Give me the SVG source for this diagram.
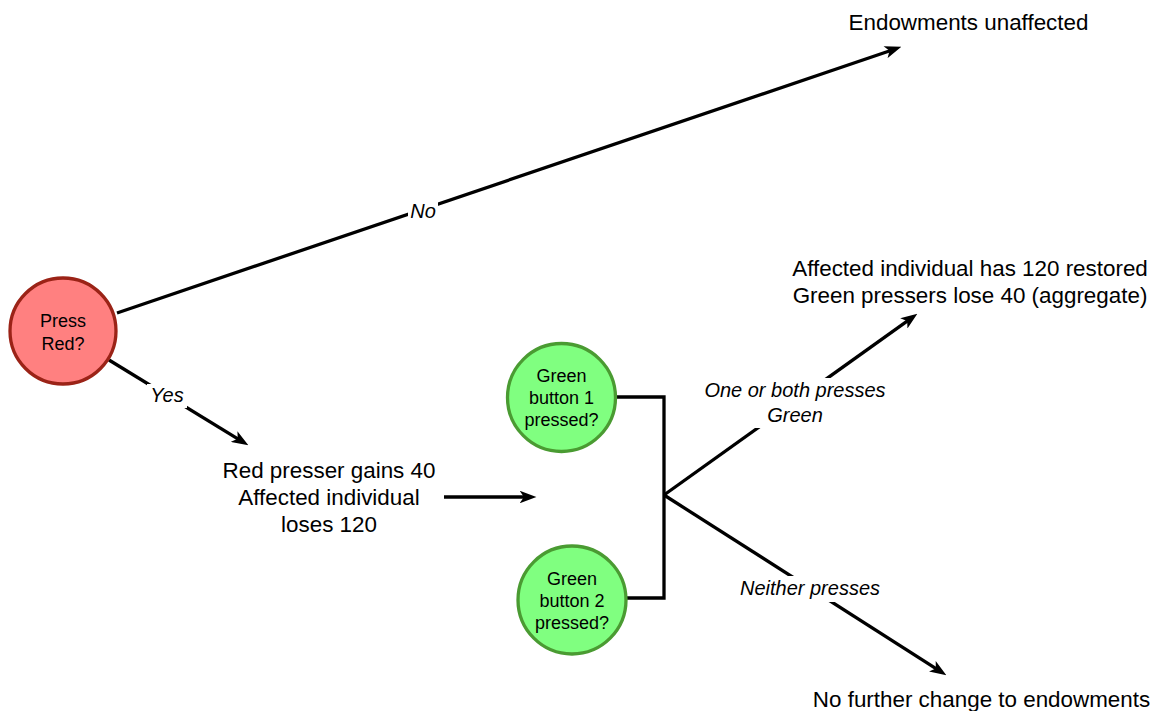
<svg xmlns="http://www.w3.org/2000/svg" width="1156" height="711" viewBox="0 0 1156 711">
<style>
text{font-family:"Liberation Sans",Arial,Helvetica,sans-serif;fill:#000;text-anchor:middle}
.big{font-size:22.4px}
.node{font-size:18px}
.lbl{font-size:20px;font-style:italic}
.edge{stroke:#000;stroke-width:3.3;fill:none}
.bg{fill:#fff}
.red{fill:#FF8080;stroke:#9B2317;stroke-width:3.3}
.green{fill:#80FF80;stroke:#4A9B32;stroke-width:3.3}
</style>
<defs>
<marker id="arr" viewBox="0 0 16 12" refX="6" refY="6" markerWidth="17" markerHeight="12.5" markerUnits="userSpaceOnUse" orient="auto">
<path d="M0,0 L16,6 L0,12 L4,6 z" fill="#000"/>
</marker>
</defs>
<rect width="1156" height="711" fill="#fff"/>
<g id="connectors">
<line class="edge" x1="117" y1="313" x2="891.5" y2="50.2" marker-end="url(#arr)"/>
<line class="edge" x1="109" y1="360" x2="239.5" y2="439.8" marker-end="url(#arr)"/>
<line class="edge" x1="444" y1="497" x2="526" y2="497" marker-end="url(#arr)"/>
<polyline class="edge" points="616,397 664,397 664,598 627,598"/>
<line class="edge" x1="664" y1="495" x2="908.9" y2="319.8" marker-end="url(#arr)"/>
<line class="edge" x1="664" y1="495" x2="937.6" y2="669.6" marker-end="url(#arr)"/>
<g id="edge-labels">
<rect class="bg" x="408" y="199" width="30" height="24"/>
<text class="lbl" x="423" y="218">No</text>
<rect class="bg" x="147" y="384" width="40" height="24"/>
<text class="lbl" x="167" y="402">Yes</text>
<rect class="bg" x="700" y="378" width="190" height="50"/>
<text class="lbl" x="795" y="397">One or both presses</text>
<text class="lbl" x="795" y="422">Green</text>
<rect class="bg" x="736" y="576" width="148" height="26"/>
<text class="lbl" x="810" y="595">Neither presses</text>
</g>
</g>
<g id="press-red">
<circle class="red" cx="63" cy="331" r="53"/>
<text class="node" x="63" y="327">Press</text>
<text class="node" x="63" y="350">Red?</text>
</g>
<g id="green-1">
<circle class="green" cx="561.5" cy="397.5" r="54"/>
<text class="node" x="561.5" y="382">Green</text>
<text class="node" x="561.5" y="404">button 1</text>
<text class="node" x="561.5" y="426">pressed?</text>
</g>
<g id="green-2">
<circle class="green" cx="572" cy="600" r="54"/>
<text class="node" x="572" y="585">Green</text>
<text class="node" x="572" y="607">button 2</text>
<text class="node" x="572" y="629">pressed?</text>
</g>
<g id="endowments-unaffected">
<text class="big" x="968.5" y="30">Endowments unaffected</text>
</g>
<g id="red-outcome">
<text class="big" x="329" y="478">Red presser gains 40</text>
<text class="big" x="329" y="505">Affected individual</text>
<text class="big" x="329" y="532">loses 120</text>
</g>
<g id="restored">
<text class="big" x="970" y="276">Affected individual has 120 restored</text>
<text class="big" x="970" y="303">Green pressers lose 40 (aggregate)</text>
</g>
<g id="no-change">
<text class="big" x="981.5" y="707">No further change to endowments</text>
</g>
</svg>
